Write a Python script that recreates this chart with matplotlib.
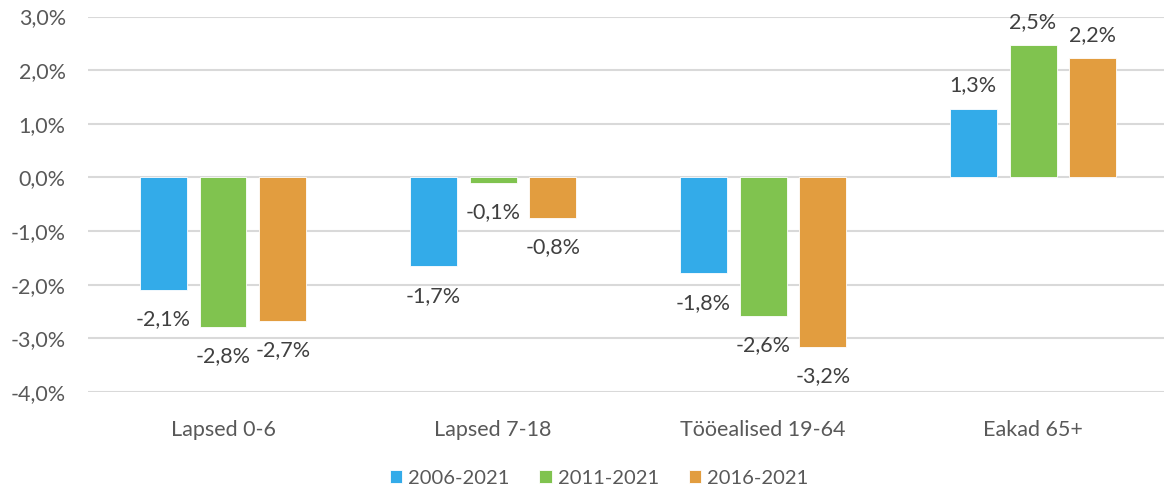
import numpy as np
import matplotlib
matplotlib.use("Agg")
import matplotlib.pyplot as plt

plt.rcParams['font.family'] = ['Lato', 'DejaVu Sans']

categories = ["Lapsed 0-6", "Lapsed 7-18", "Tööealised 19-64", "Eakad 65+"]
series_names = ["2006-2021", "2011-2021", "2016-2021"]
values_2006 = [-2.10, -1.66, -1.79, 1.28]
values_2011 = [-2.79, -0.11, -2.59, 2.46]
values_2016 = [-2.68, -0.76, -3.16, 2.22]
colors = ["#33ABE9", "#80C34F", "#E29D3F"]

fig = plt.figure(figsize=(11.64, 4.90), dpi=100)
ax = fig.add_axes([88 / 1164, 1 - 392 / 490, 1 - 88 / 1164, (392 - 16.5) / 490])

x = np.arange(len(categories))
width = 0.174
offset = 0.222

for i, (name, vals) in enumerate(zip(series_names, [values_2006, values_2011, values_2016])):
    pos = x + (i - 1) * offset
    ax.bar(pos, vals, width, color=colors[i], label=name, zorder=3,
           edgecolor="white", linewidth=0.6)
    for px, v in zip(pos, vals):
        txt = f"{v:.1f}%".replace(".", ",")
        dy = 17 if v > 0 else -21
        ax.annotate(txt, (px, v), xytext=(0, dy), textcoords="offset points",
                    ha="center", va="center", fontsize=15.5, color="#404040")

ax.set_ylim(-4, 3)
ax.set_xlim(-0.5, 3.485)
ax.set_yticks(np.arange(-4, 3.1, 1))
ax.set_yticklabels([f"{t:.1f}%".replace(".", ",") for t in np.arange(-4, 3.1, 1)])
ax.set_xticks(x)
ax.set_xticklabels(categories)
ax.tick_params(axis="both", length=0, labelsize=15.5, colors="#595959")
ax.tick_params(axis="x", pad=20)
ax.tick_params(axis="y", pad=16)
ax.yaxis.grid(True, color="#D9D9D9", linewidth=1.5, zorder=0)
for s in ax.spines.values():
    s.set_visible(False)

fig.legend(loc="center", bbox_to_anchor=(599 / 1164, 1 - 478 / 490), ncol=3, frameon=False,
           fontsize=14.5, handlelength=0.6, handleheight=0.6, columnspacing=1.5,
           handletextpad=0.3, labelcolor="#595959")

fig.savefig("out.png", dpi=100)
